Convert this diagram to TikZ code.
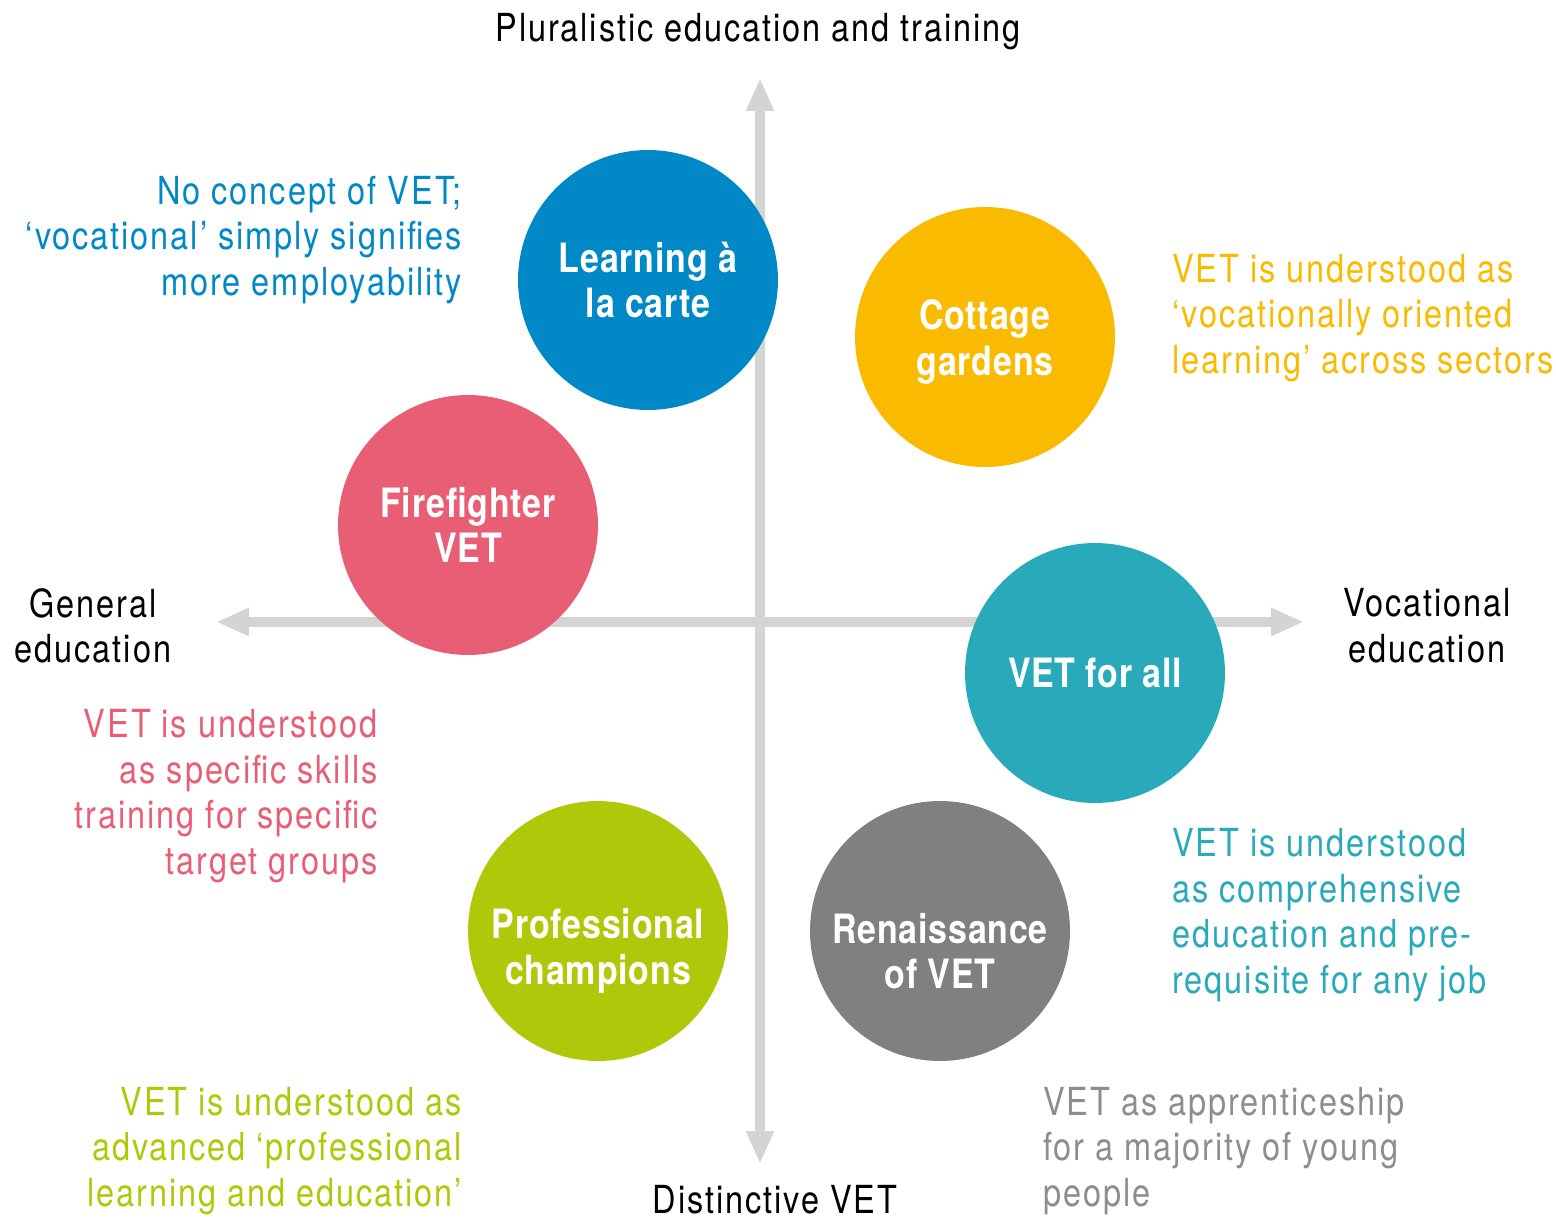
\documentclass[tikz,border=0pt]{standalone}
\usepackage{fontspec}
\setmainfont{TeX Gyre Heros}[FakeStretch=0.84,LetterSpace=5]
\usetikzlibrary{arrows.meta}
\definecolor{vetblue}{RGB}{0,136,199}
\definecolor{vetyellow}{RGB}{250,186,0}
\definecolor{vetred}{RGB}{232,94,116}
\definecolor{vetteal}{RGB}{40,170,186}
\definecolor{vetgreen}{RGB}{175,201,10}
\definecolor{vetgrey}{RGB}{128,128,128}
\definecolor{axisgrey}{RGB}{212,212,212}
\tikzset{
	bubble/.style={circle,minimum size=5.2cm,inner sep=0pt},
	bubbletext/.style={inner sep=0pt,text=white,align=center,font=\bfseries\fontsize{23}{26}\selectfont\addfontfeature{LetterSpace=2}},
	note/.style={inner sep=0pt,font=\fontsize{22}{26}\selectfont},
	axis/.style={line width=0.2cm,draw=axisgrey,-{Triangle[length=0.66cm,width=0.52cm]}}
}

\begin{document}
\begin{tikzpicture}[x=0.02cm,y=-0.02cm]
			\useasboundingbox (0,0) rectangle (1556,1224);
			\coordinate (origin) at (760,622);
			\coordinate (top) at (760,78);
			\coordinate (bottom) at (760,1164);
			\coordinate (left) at (216,622);
			\coordinate (right) at (1304,622);
			\draw[axis] (origin) -- (top);
			\draw[axis] (origin) -- (bottom);
			\draw[axis] (origin) -- (left);
			\draw[axis] (origin) -- (right);
			\node[bubble,fill=vetblue] (learning) at (648,280) {};
			\node[bubble,fill=vetyellow] (cottage) at (985,337) {};
			\node[bubble,fill=vetred] (fire) at (468,525) {};
			\node[bubble,fill=vetteal] (all) at (1095,673) {};
			\node[bubble,fill=vetgreen] (prof) at (598,931) {};
			\node[bubble,fill=vetgrey] (ren) at (940,931) {};
			\node[bubbletext] (learning_txt) at (learning) {Learning à\\la carte};
			\node[bubbletext] (cottage_txt) at ([yshift=-0.1cm]cottage) {Cottage\\gardens};
			\node[bubbletext] (fire_txt) at (fire) {Firefighter\\VET};
			\node[bubbletext] (all_txt) at (all) {VET for all};
			\node[bubbletext] (prof_txt) at ([yshift=-0.4cm]prof) {Professional\\champions};
			\node[bubbletext] (ren_txt) at ([yshift=-0.4cm]ren) {Renaissance\\of VET};
			% axis labels
			\node[note] (plural) at (758,32) {Pluralistic education and training};
			\node[note] (distinct) at (775,1200) {Distinctive VET};
			\node[note,align=center] (general) at (93,626) {General\\education};
			\node[note,align=center] (vocational) at (1427,626) {Vocational\\education};
			% descriptions
			\node[note,align=right,anchor=east,text=vetblue] (d_learning) at (462,240) {No concept of VET;\\‘vocational’ simply signifies\\more employability};
			\node[note,align=left,anchor=west,text=vetyellow] (d_cottage) at (1172,318) {VET is understood as\\‘vocationally oriented\\learning’ across sectors};
			\node[note,align=right,anchor=east,text=vetred] (d_fire) at (378,796) {VET is understood\\as specific skills\\training for specific\\target groups};
			\node[note,align=left,anchor=west,text=vetteal] (d_all) at (1172,915) {VET is understood\\as comprehensive\\education and pre-\\requisite for any job};
			\node[note,align=right,anchor=east,text=vetgreen] (d_prof) at (462,1151) {VET is understood as\\advanced ‘professional\\learning and education’};
			\node[note,align=left,anchor=west,text=vetgrey!90] (d_ren) at (1043,1151) {VET as apprenticeship\\for a majority of young\\people};
\end{tikzpicture}
\end{document}
